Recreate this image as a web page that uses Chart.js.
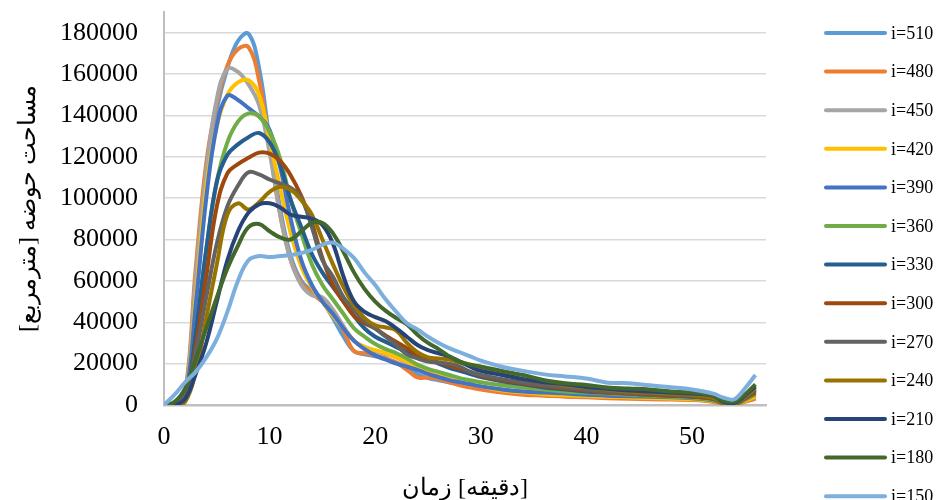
<!DOCTYPE html>
<html>
<head>
<meta charset="utf-8">
<script src="https://cdn.jsdelivr.net/npm/chart.js@4.4.0/dist/chart.umd.min.js"></script>
<style>
  html, body { margin: 0; padding: 0; background: #fff; }
  #wrap { width: 936px; height: 500px; }
</style>
</head>
<body>
<div id="wrap"><canvas id="chart" width="936" height="500" dir="ltr"></canvas></div>
<script>
// time axis (minutes)
const times = [0, 1, 2, 3, 4, 5, 6, 7, 8, 9, 10,
  11, 12, 13, 14, 15, 16, 17, 18, 19, 20,
  21, 22, 23, 24, 25, 26, 27, 28, 29, 30,
  32, 34, 36, 38, 40, 42, 44, 46, 48, 50,
  52, 53, 54, 55, 56];

// basin area per series
const s510 = [0, 0, 4000, 62000, 113000, 143000, 163000, 176000, 179500, 163000, 128000,
  95000, 72000, 60000, 55000, 50000, 42000, 33000, 26000, 24500, 23500,
  22000, 20500, 18000, 15000, 13000, 12000, 11000, 10000, 9000, 8000,
  6500, 5500, 5000, 4500, 4000, 3700, 3500, 3300, 3000, 2800,
  2000, 500, 200, 1800, 3500];
const s480 = [0, 0, 6000, 66000, 117000, 146000, 164000, 172000, 173000, 157000, 125000,
  92000, 70000, 59000, 54000, 50000, 46000, 36000, 26000, 25000, 24000,
  22500, 20500, 17000, 13300, 13300, 12500, 11000, 9500, 8500, 7500,
  6000, 5000, 4500, 4000, 3700, 3300, 3000, 2800, 2600, 2400,
  1500, 300, 0, 1500, 3000];
const s450 = [0, 0, 5000, 62000, 113000, 148000, 162500, 161000, 155000, 145000, 122000,
  92000, 70000, 58000, 53000, 52000, 46000, 38000, 31000, 28000, 26000,
  24500, 23000, 20000, 17500, 15500, 14000, 12500, 11000, 10000, 9000,
  7500, 6500, 5500, 5000, 4500, 4000, 3800, 3500, 3200, 3000,
  2000, 500, 200, 2200, 4500];
const s420 = [0, 0, 4000, 52000, 105000, 135000, 150000, 156000, 157000, 150000, 128000,
  105000, 83000, 67000, 57000, 50000, 43000, 37000, 31000, 28000, 26500,
  25000, 23000, 21000, 18500, 16000, 14000, 12500, 11000, 10000, 9000,
  7000, 6000, 5200, 4700, 4300, 4000, 3700, 3400, 3100, 2800,
  1800, 400, 100, 2000, 4000];
const s390 = [0, 0, 4000, 48000, 100000, 135000, 149500, 147500, 143500, 139500, 133000,
  115000, 90000, 70000, 58000, 50000, 44000, 37000, 31000, 27000, 24000,
  22000, 20000, 18500, 17000, 15000, 13500, 12000, 11000, 10000, 9000,
  7500, 6500, 6000, 5500, 5000, 4500, 4200, 4000, 3700, 3300,
  2200, 500, 200, 2500, 5500];
const s360 = [0, 0, 3000, 35000, 75000, 108000, 127000, 137000, 141000, 139500, 132000,
  119000, 99000, 83000, 68000, 58000, 51000, 44000, 37000, 33000, 29500,
  27000, 25000, 22500, 19500, 17500, 16000, 14500, 13000, 12000, 11000,
  9500, 8500, 7500, 6500, 6000, 5500, 5000, 4500, 4000, 3500,
  2500, 500, 300, 2500, 5000];
const s330 = [0, 0, 3000, 35000, 75000, 108000, 121000, 126000, 129500, 131500, 127000,
  116000, 99000, 86000, 73000, 64000, 57000, 50000, 43000, 37000, 33000,
  30500, 28000, 25500, 23000, 22000, 20000, 18000, 16500, 15000, 13500,
  11500, 10000, 8500, 7500, 6500, 6000, 5500, 5000, 4500, 4000,
  3000, 800, 500, 3500, 7000];
const s300 = [0, 0, 3000, 28000, 62000, 96000, 112000, 116500, 119500, 122000, 121500,
  118000, 111000, 101000, 88000, 71000, 58000, 50000, 43000, 39500, 37000,
  33500, 30500, 27500, 24000, 22000, 20500, 19000, 17500, 16000, 14000,
  12000, 10500, 9000, 8000, 7000, 6000, 5500, 5000, 4500, 4000,
  3000, 800, 500, 3000, 6000];
const s270 = [0, 500, 5000, 25000, 52000, 78000, 96000, 106000, 112500, 111500, 109000,
  107000, 105000, 100000, 86000, 70000, 62000, 52000, 46000, 40500, 37000,
  33000, 29000, 24500, 22500, 21000, 20500, 20000, 18500, 16000, 14500,
  12500, 11000, 9500, 8500, 7500, 6500, 6000, 5500, 5000, 4500,
  3500, 1000, 500, 3500, 7500];
const s240 = [0, 0, 1500, 16000, 42000, 68000, 92000, 97500, 94500, 98000, 103000,
  105500, 104000, 99000, 92000, 80000, 68000, 57000, 48000, 42000, 38500,
  37500, 36000, 30000, 25500, 23000, 22500, 22000, 20500, 19500, 18500,
  15500, 12500, 11000, 9500, 8500, 7500, 6500, 6000, 5500, 5000,
  3500, 1000, 500, 4000, 8000];
const s210 = [0, 0, 3000, 15000, 30000, 50000, 70000, 84000, 93000, 97000, 97500,
  95500, 92000, 91000, 90000, 87000, 78000, 62000, 50000, 45000, 42500,
  40500, 37000, 33000, 29000, 26500, 25000, 23500, 21000, 18500, 16500,
  14500, 12500, 11000, 10000, 8700, 7800, 7000, 6500, 6000, 5500,
  4500, 1500, 1000, 4500, 9000];
const s180 = [0, 1500, 8000, 22000, 37000, 52000, 66000, 77000, 86000, 87500, 84000,
  81000, 80000, 84000, 88000, 88000, 83000, 74000, 64000, 56000, 50000,
  45500, 42000, 39000, 34000, 30000, 27000, 23500, 21000, 19500, 18500,
  16500, 14500, 12000, 10500, 9700, 8500, 8000, 7500, 6500, 6000,
  4500, 2000, 1500, 5000, 10000];
const s150 = [0, 5000, 11000, 16000, 23000, 32000, 45000, 60000, 70000, 72000, 71500,
  72000, 72500, 73500, 75000, 77500, 78500, 75500, 71000, 64000, 58000,
  51000, 45000, 39500, 36500, 33000, 30000, 27500, 25500, 23500, 21500,
  18500, 16500, 14800, 13800, 12800, 10800, 10500, 9500, 8600, 7500,
  5500, 3500, 2800, 8000, 14500];

const seriesLabels = ["i=510", "i=480", "i=450", "i=420", "i=390", "i=360", "i=330",
  "i=300", "i=270", "i=240", "i=210", "i=180", "i=150"];
const seriesValues = [s510, s480, s450, s420, s390, s360, s330, s300, s270, s240, s210, s180, s150];
const seriesColors = ["#5B9BD5", "#ED7D31", "#A5A5A5", "#FFC000", "#4472C4", "#70AD47", "#255E91",
  "#9E480E", "#636363", "#997300", "#264478", "#43682B", "#7CAFDD"];

const xTicks = [0, 10, 20, 30, 40, 50];
const yTicks = [0, 20000, 40000, 60000, 80000, 100000, 120000, 140000, 160000, 180000];

const xTitle = "\u202Aزمان\u200E [دقیقه]\u202C";
const yTitle = "\u200Fمساحت حوضه [مترمربع]\u200F";

const serif = "'Times New Roman', 'Liberation Serif', serif";

// legend drawn at the right, one row per series
const sideLegend = {
  id: "sideLegend",
  afterDraw(chart) {
    let ctx = chart.ctx;
    ctx.save();
    chart.data.datasets.forEach((ds, i) => {
      let y = 33 + i * 38.6;
      ctx.strokeStyle = ds.borderColor;
      ctx.lineWidth = 4;
      ctx.lineCap = "round";
      ctx.beginPath();
      ctx.moveTo(826, y);
      ctx.lineTo(885, y);
      ctx.stroke();
      ctx.fillStyle = "#000";
      ctx.font = "18px " + serif;
      ctx.textBaseline = "middle";
      ctx.textAlign = "left";
      ctx.fillText(ds.label, 891, y + 1);
    });
    ctx.restore();
  },
};

const datasets = seriesValues.map((vals, i) => ({
  label: seriesLabels[i],
  data: times.map((t, k) => ({ x: t, y: vals[k] })),
  borderColor: seriesColors[i],
  backgroundColor: seriesColors[i],
  borderWidth: 4,
  pointRadius: 0,
  tension: 0.4,
  fill: false,
  order: seriesValues.length - i, // later series drawn on top
}));

new Chart(document.getElementById("chart"), {
  type: "line",
  data: { datasets: datasets },
  plugins: [sideLegend],
  options: {
    responsive: false,
    animation: false,
    layout: { padding: { left: 0, right: 170, top: 12, bottom: 0 } },
    plugins: {
      legend: { display: false },
      tooltip: { enabled: false },
    },
    scales: {
      x: {
        type: "linear",
        min: 0,
        max: 57,
        afterFit(s) {
          s.height = 95;
          s.paddingLeft = 0;
          s.paddingRight = 0;
        },
        afterBuildTicks(s) { s.ticks = xTicks.map((v) => ({ value: v })); },
        ticks: { padding: 17, maxRotation: 0, color: "#000", font: { family: serif, size: 26 } },
        grid: { display: false, drawTicks: false },
        border: { color: "#BFBFBF", width: 2.5 },
        title: { display: true, text: xTitle, color: "#000", font: { family: serif, size: 24 }, padding: { top: 0, bottom: -3 } },
      },
      y: {
        min: 0,
        max: 190000,
        afterFit(s) {
          s.width = 164;
          s.paddingTop = 0;
          s.paddingBottom = 0;
        },
        afterBuildTicks(s) { s.ticks = yTicks.map((v) => ({ value: v })); },
        ticks: { padding: 26, color: "#000", font: { family: serif, size: 26 }, callback: (v) => String(v) },
        grid: { color: "#D9D9D9", lineWidth: 1.5, drawTicks: false },
        border: { color: "#BFBFBF", width: 2 },
        title: { display: true, text: yTitle, color: "#000", font: { family: serif, size: 24 }, padding: { top: 14, bottom: 0 } },
      },
    },
  },
});
</script>
</body>
</html>
